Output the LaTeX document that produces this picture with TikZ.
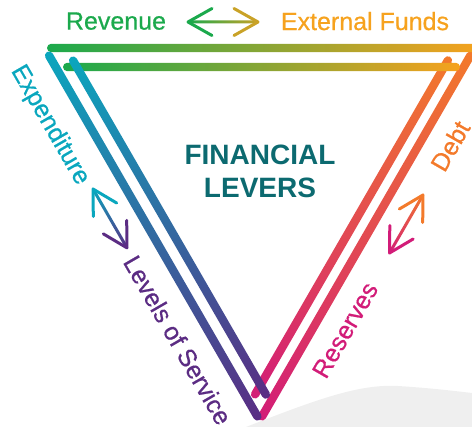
\documentclass[tikz,border=0pt]{standalone}
\usepackage{fontspec}
\setmainfont{Liberation Sans}
\newfontfamily\labelfont[FakeBold=0.6]{Liberation Sans}
\usetikzlibrary{positioning}

\definecolor{revgreen}{HTML}{1BA94C}
\definecolor{fundorange}{HTML}{F6A21E}
\definecolor{spendteal}{HTML}{0AA7BE}
\definecolor{servpurple}{HTML}{5B2C83}
\definecolor{debtorange}{HTML}{F37A2B}
\definecolor{resmagenta}{HTML}{D21C78}
\definecolor{arrowgold}{HTML}{C9A227}
\definecolor{leverteal}{HTML}{0C6A70}
\definecolor{floorgrey}{HTML}{EFEFEF}

% shaded bar: start, angle, length, half width, shading
\newcommand{\gradbar}[5]{%
  \begin{scope}[shift={#1},rotate=#2]
    \shade[#5,rounded corners=#4pt] (0,-#4) rectangle (#3,#4);
  \end{scope}}

% double arrow: start, angle, length, shading, colour at start, colour at end
\newcommand{\twoway}[6]{%
  \begin{scope}[shift={#1},rotate=#2]
    \shade[#4,rounded corners=1.4pt] (0,-1.5) rectangle (#3,1.5);
    \draw[arrowarm,#5] (24,-13.5) -- (0,0) -- (24,13.5);
    \draw[arrowarm,#6] ({#3-24},-13.5) -- (#3,0) -- ({#3-24},13.5);
  \end{scope}}

\tikzset{
  arrowarm/.style={line width=3pt,line cap=round,line join=round},
  toplabel/.style={font=\labelfont\fontsize{25}{30}\selectfont,inner sep=0pt,text depth=0pt},
  sidelabel/.style={font=\labelfont\fontsize{25}{30}\selectfont,inner sep=0pt,text depth=0pt},
  title/.style={font=\bfseries\fontsize{28}{33}\selectfont,text=leverteal,align=center,inner sep=0pt}
}

\begin{document}
\begin{tikzpicture}[x=1pt,y=-1pt]
  \useasboundingbox (0,0) rectangle (472,427);
  \clip (0,0) rectangle (472,427);

  %Draw grey floor
  \fill[floorgrey] (246,427) .. controls (320,398) and (360,384) .. (398,386)
    .. controls (430,388) and (455,391) .. (472,393) -- (472,427) -- cycle;

  %Draw right side (debt - reserves)
  \gradbar{(260,420)}{60}{425}{4.2}{top color=debtorange,bottom color=resmagenta}
  \gradbar{(253,398)}{60}{394}{4.2}{top color=debtorange,bottom color=resmagenta}

  %Draw top side (revenue - external funds)
  \gradbar{(47,48)}{0}{432}{4.2}{left color=revgreen,right color=fundorange}
  \gradbar{(63,67)}{0}{397}{4.2}{left color=revgreen,right color=fundorange}

  %Draw left side (expenditure - levels of service)
  \gradbar{(47,52)}{-60}{425}{4.2}{top color=spendteal,bottom color=servpurple}
  \gradbar{(71,57)}{-60}{394}{4.2}{top color=spendteal,bottom color=servpurple}

  %Draw double arrows
  \twoway{(188,22)}{0}{70}{left color=revgreen,right color=arrowgold}{revgreen}{arrowgold}
  \twoway{(93,189)}{-60}{68}{top color=spendteal,bottom color=servpurple}{spendteal}{servpurple}
  \twoway{(423,195)}{-120}{67}{top color=debtorange,bottom color=resmagenta}{debtorange}{resmagenta}

  %Draw labels
  \node[toplabel,text=revgreen] (revenue) at (116,21) {Revenue};
  \node[toplabel,text=fundorange] (funds) at (365,21) {External Funds};
  \node[sidelabel,text=spendteal,rotate=-60] (spend) at (52,124) {Expenditure};
  \node[sidelabel,text=servpurple,rotate=-60] (service) at (178,340) {Levels of Service};
  \node[sidelabel,text=debtorange,rotate=60] (debt) at (450,146) {Debt};
  \node[sidelabel,text=resmagenta,rotate=60] (reserves) at (345,330) {Reserves};
  \node[title] (levers) at (260,171) {FINANCIAL\\LEVERS};
\end{tikzpicture}
\end{document}
